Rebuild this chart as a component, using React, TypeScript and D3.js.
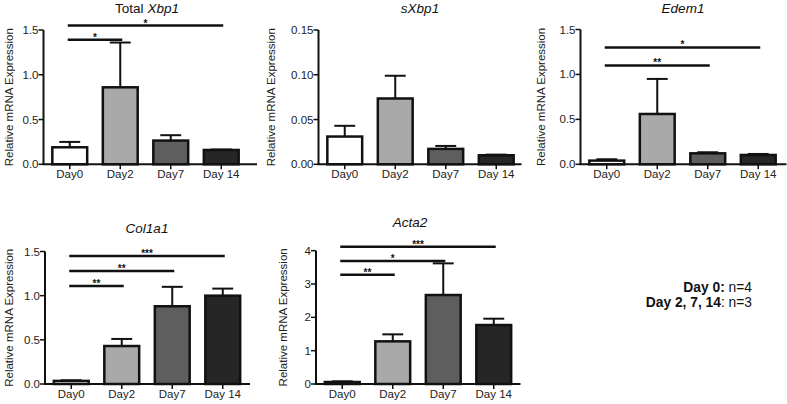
import React from "react";
import * as d3 from "d3";

const categories = ["Day0", "Day2", "Day7", "Day 14"];
const barColors = ["#ffffff", "#a9a9a9", "#5e5e5e", "#262626"];

const xbp1Mean = [0.19, 0.86, 0.265, 0.16];
const xbp1Err = [0.06, 0.5, 0.06, 0.005];
const sxbp1Mean = [0.031, 0.0735, 0.0172, 0.0101];
const sxbp1Err = [0.012, 0.0254, 0.0033, 0.0007];
const edem1Mean = [0.041, 0.56, 0.122, 0.104];
const edem1Err = [0.015, 0.39, 0.012, 0.011];
const col1a1Mean = [0.035, 0.43, 0.88, 1.0];
const col1a1Err = [0.007, 0.08, 0.22, 0.08];
const acta2Mean = [0.06, 1.28, 2.67, 1.77];
const acta2Err = [0.02, 0.21, 0.95, 0.19];

const xbp1Ticks = [0, 0.5, 1.0, 1.5];
const sxbp1Ticks = [0, 0.05, 0.1, 0.15];
const edem1Ticks = [0, 0.5, 1.0, 1.5];
const col1a1Ticks = [0, 0.5, 1.0, 1.5];
const acta2Ticks = [0, 1, 2, 3, 4];

type Sig = { from: string; to: string; y: number; label: string };
const xbp1Sig: Sig[] = [
  { from: "Day0", to: "Day2", y: 1.39, label: "*" },
  { from: "Day0", to: "Day 14", y: 1.55, label: "*" },
];
const edem1Sig: Sig[] = [
  { from: "Day0", to: "Day7", y: 1.1, label: "**" },
  { from: "Day0", to: "Day 14", y: 1.3, label: "*" },
];
const col1a1Sig: Sig[] = [
  { from: "Day0", to: "Day2", y: 1.11, label: "**" },
  { from: "Day0", to: "Day7", y: 1.28, label: "**" },
  { from: "Day0", to: "Day 14", y: 1.45, label: "***" },
];
const acta2Sig: Sig[] = [
  { from: "Day0", to: "Day2", y: 3.28, label: "**" },
  { from: "Day0", to: "Day7", y: 3.69, label: "*" },
  { from: "Day0", to: "Day 14", y: 4.12, label: "***" },
];

const FONT = "Liberation Sans, Arial, sans-serif";

type PanelProps = {
  title: string[];
  titleX: number;
  titleY: number;
  axisX: number;
  axisEnd: number;
  zeroY: number;
  topY: number;
  labelX: number;
  mean: number[];
  err: number[];
  ticks: number[];
  fmt: string;
  sig: Sig[];
  tickLabelY: number;
};

function Panel(p: PanelProps) {
  const ymax = p.ticks[p.ticks.length - 1];
  const y = d3.scaleLinear().domain([0, ymax]).range([p.zeroY, p.topY]);
  const step = 50.5;
  const x = d3
    .scaleBand<string>()
    .domain(categories)
    .range([p.axisX + 1, p.axisX + 1 + step * categories.length])
    .paddingInner(0.31)
    .paddingOuter(0.155);
  const bw = x.bandwidth();
  const cx = (c: string) => (x(c) as number) + bw / 2;
  const f = d3.format(p.fmt);
  return (
    <g>
      <text
        x={p.titleX}
        y={p.titleY}
        textAnchor="middle"
        fontSize={13.5}
        fontFamily={FONT}
        fill="#111"
      >
        {p.title.length > 1 ? (
          <>
            <tspan>{p.title[0]} </tspan>
            <tspan fontStyle="italic">{p.title[1]}</tspan>
          </>
        ) : (
          <tspan fontStyle="italic">{p.title[0]}</tspan>
        )}
      </text>
      <text
        transform={`translate(${p.labelX},${(p.zeroY + p.topY) / 2}) rotate(-90)`}
        textAnchor="middle"
        fontSize={11.5}
        fontFamily={FONT}
        fill="#222"
      >
        Relative mRNA Expression
      </text>
      {categories.map((c, i) => (
        <g key={c}>
          <line
            x1={cx(c)}
            x2={cx(c)}
            y1={y(p.mean[i])}
            y2={y(p.mean[i] + p.err[i])}
            stroke="#111"
            strokeWidth={2}
          />
          <line
            x1={cx(c) - bw * 0.3}
            x2={cx(c) + bw * 0.3}
            y1={y(p.mean[i] + p.err[i])}
            y2={y(p.mean[i] + p.err[i])}
            stroke="#111"
            strokeWidth={2}
          />
          <rect
            x={x(c)}
            y={y(p.mean[i])}
            width={bw}
            height={p.zeroY - y(p.mean[i])}
            fill={barColors[i]}
            stroke="#111"
            strokeWidth={2.5}
          />
        </g>
      ))}
      <line x1={p.axisX} x2={p.axisX} y1={p.zeroY} y2={p.topY} stroke="#111" strokeWidth={2} />
      <line x1={p.axisX - 1} x2={p.axisEnd} y1={p.zeroY} y2={p.zeroY} stroke="#111" strokeWidth={2} />
      {p.ticks.map((t) => (
        <g key={t}>
          <line x1={p.axisX - 5} x2={p.axisX} y1={y(t)} y2={y(t)} stroke="#111" strokeWidth={1.5} />
          <text
            x={p.axisX - 5}
            y={y(t) + 4}
            textAnchor="end"
            fontSize={11.5}
            fontFamily={FONT}
            fill="#222"
          >
            {f(t)}
          </text>
        </g>
      ))}
      {categories.map((c) => (
        <g key={"t" + c}>
          <line x1={cx(c)} x2={cx(c)} y1={p.zeroY} y2={p.zeroY + 5} stroke="#111" strokeWidth={1.5} />
          <text
            x={cx(c)}
            y={p.tickLabelY}
            textAnchor="middle"
            fontSize={11.5}
            fontFamily={FONT}
            fill="#222"
          >
            {c}
          </text>
        </g>
      ))}
      {p.sig.map((s, i) => {
        const x1 = cx(s.from) - 2;
        const x2 = cx(s.to) + 2;
        return (
          <g key={"s" + i}>
            <line x1={x1} x2={x2} y1={y(s.y)} y2={y(s.y)} stroke="#111" strokeWidth={2.5} />
            <text
              x={(x1 + x2) / 2}
              y={y(s.y) + 1}
              textAnchor="middle"
              fontSize={10}
              fontWeight="bold"
              fontFamily={FONT}
              fill="#111"
            >
              {s.label}
            </text>
          </g>
        );
      })}
    </g>
  );
}

export default function App() {
  return (
    <svg
      width={787}
      height={404}
      style={{ position: "absolute", left: 0, top: 0, background: "#fff" }}
    >
      <rect width={787} height={404} fill="#fff" />
      <Panel
        title={["Total", "Xbp1"]}
        titleX={147}
        titleY={13}
        axisX={43.5}
        axisEnd={257}
        zeroY={164.3}
        topY={30}
        labelX={12.5}
        mean={xbp1Mean}
        err={xbp1Err}
        ticks={xbp1Ticks}
        fmt=".1f"
        sig={xbp1Sig}
        tickLabelY={178}
      />
      <Panel
        title={["sXbp1"]}
        titleX={420}
        titleY={13}
        axisX={318.5}
        axisEnd={521.5}
        zeroY={164.3}
        topY={30}
        labelX={275}
        mean={sxbp1Mean}
        err={sxbp1Err}
        ticks={sxbp1Ticks}
        fmt=".2f"
        sig={[]}
        tickLabelY={178}
      />
      <Panel
        title={["Edem1"]}
        titleX={683}
        titleY={13}
        axisX={580.5}
        axisEnd={786.5}
        zeroY={164.3}
        topY={29.5}
        labelX={545}
        mean={edem1Mean}
        err={edem1Err}
        ticks={edem1Ticks}
        fmt=".1f"
        sig={edem1Sig}
        tickLabelY={178}
      />
      <Panel
        title={["Col1a1"]}
        titleX={147}
        titleY={233}
        axisX={45}
        axisEnd={250}
        zeroY={384}
        topY={251.5}
        labelX={12.5}
        mean={col1a1Mean}
        err={col1a1Err}
        ticks={col1a1Ticks}
        fmt=".1f"
        sig={col1a1Sig}
        tickLabelY={398}
      />
      <Panel
        title={["Acta2"]}
        titleX={410}
        titleY={227}
        axisX={316}
        axisEnd={520.5}
        zeroY={384}
        topY={250.7}
        labelX={287}
        mean={acta2Mean}
        err={acta2Err}
        ticks={acta2Ticks}
        fmt="d"
        sig={acta2Sig}
        tickLabelY={398}
      />
      <text x={752} y={292} textAnchor="end" fontSize={13.8} fontFamily={FONT} fill="#111">
        <tspan fontWeight="bold">Day 0:</tspan>
        <tspan> n=4</tspan>
      </text>
      <text x={752} y={307} textAnchor="end" fontSize={13.8} fontFamily={FONT} fill="#111">
        <tspan fontWeight="bold">Day 2, 7, 14</tspan>
        <tspan>: n=3</tspan>
      </text>
    </svg>
  );
}
